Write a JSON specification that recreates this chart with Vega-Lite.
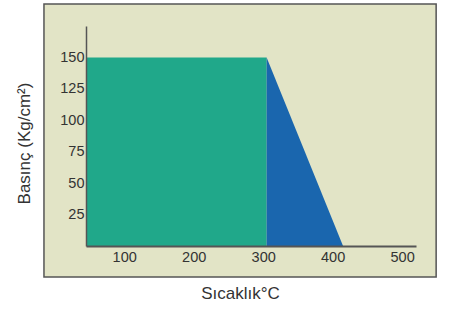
{
  "$schema": "https://vega.github.io/schema/vega-lite/v6.json",
  "width": 330,
  "height": 220,
  "autosize": {"type": "none"},
  "padding": {"left": 86, "top": 26, "right": 38, "bottom": 63},
  "background": "white",
  "config": {
    "view": {"stroke": null}
  },
  "datasets": {
    "box": [{"x1": -15.5, "x2": 549, "y1": -24.7, "y2": 192.5}],
    "green": [{"t1": 45, "t2": 305, "p": 150}],
    "blue": [{"t": 305, "p": 150}, {"t": 415, "p": 0}]
  },
  "layer": [
    {
      "data": {"name": "box"},
      "mark": {"type": "rect", "fill": "#e2e4c6", "stroke": "#555555", "strokeWidth": 1.5},
      "encoding": {
        "x": {"field": "x1", "type": "quantitative", "scale": {"domain": [45, 520], "nice": false, "zero": false},
              "axis": {"zindex": 2, "grid": false, "ticks": false, "values": [100, 200, 300, 400, 500], "title": "Sıcaklık°C",
                       "domainWidth": 2, "domainColor": "#555555", "labelPadding": 4, "labelFont": "Liberation Sans", "labelFontSize": 14.5, "labelColor": "#333333",
                       "titleFont": "Liberation Sans", "titleFontSize": 17, "titleFontWeight": "normal", "titleColor": "#333333", "titleX": 154, "titleY": 39}},
        "x2": {"field": "x2"},
        "y": {"field": "y1", "type": "quantitative", "scale": {"domain": [0, 175], "nice": false, "zero": false},
              "axis": {"zindex": 2, "grid": false, "ticks": false, "values": [25, 50, 75, 100, 125, 150], "title": "Basınç (Kg/cm²)",
                       "domainWidth": 1.5, "domainColor": "#555555", "labelPadding": 2, "labelFont": "Liberation Sans", "labelFontSize": 14.5, "labelColor": "#333333",
                       "titleFont": "Liberation Sans", "titleFontSize": 17, "titleFontWeight": "normal", "titleColor": "#333333", "titleX": -53, "titleY": 117}},
        "y2": {"field": "y2"}
      }
    },
    {
      "data": {"name": "green"},
      "mark": {"type": "rect", "fill": "#20a88a"},
      "encoding": {
        "x": {"field": "t1", "type": "quantitative"},
        "x2": {"field": "t2"},
        "y": {"field": "p", "type": "quantitative"},
        "y2": {"datum": 0}
      }
    },
    {
      "data": {"name": "blue"},
      "mark": {"type": "area", "fill": "#1a66ae"},
      "encoding": {
        "x": {"field": "t", "type": "quantitative"},
        "y": {"field": "p", "type": "quantitative"}
      }
    }
  ]
}
